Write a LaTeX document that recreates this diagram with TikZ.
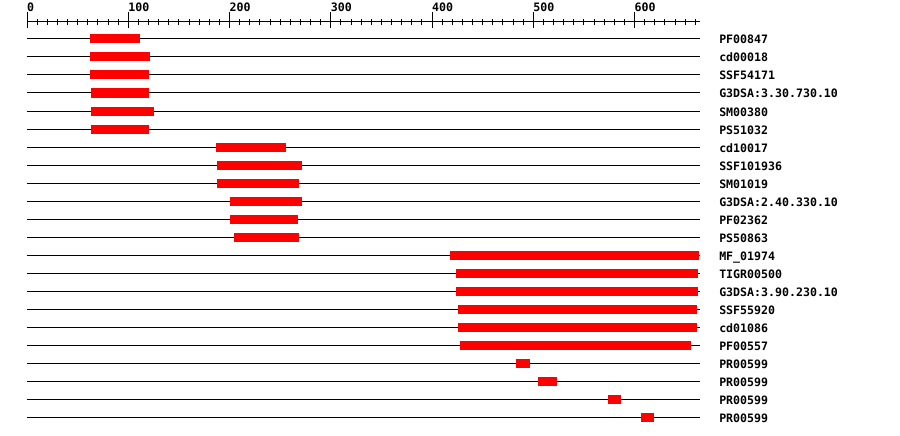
\documentclass[tikz,border=0pt]{standalone}
\usepackage{fontspec}
\newfontfamily\monofnt{DejaVu Sans Mono}
\usetikzlibrary{positioning}
\tikzset{
  track/.style={black, line width=1pt},
  hit/.style={fill=red},
  lbl/.style={anchor=base west, inner sep=0pt, font=\monofnt\bfseries\fontsize{11.6}{12}\selectfont},
}

\begin{document}
\begin{tikzpicture}[x=1.0125pt, y=-1pt]
    \useasboundingbox (-26.67,0) rectangle (862.22,436);
    % ruler
    \draw[track] (0,22) -- (665,22);
    \foreach \t in {0,10,...,660} {
        \draw[track] (\t,19) -- (\t,25.5);
    }
    \foreach \t in {0,100,...,600} {
        \draw[track] (\t,12) -- (\t,28.5);
        \node[lbl] (t\t) at (\t,12) {\t};
    }
    % domain hits
    \foreach \a/\b/\name [count=\i] in {62/112/PF00847, 62/121/cd00018, 62/120/SSF54171,
        63/120/G3DSA:3.30.730.10, 63/125/SM00380, 63/120/PS51032,
        187/256/cd10017, 188/272/SSF101936, 188/269/SM01019,
        200/272/G3DSA:2.40.330.10, 200/268/PF02362, 204/269/PS50863,
        418/664/MF\_01974, 424/663/TIGR00500, 424/663/G3DSA:3.90.230.10,
        426/662/SSF55920, 426/662/cd01086, 428/656/PF00557,
        483/497/PR00599, 505/523/PR00599, 574/587/PR00599, 606/619/PR00599} {
        \pgfmathsetmacro{\yy}{21+18*\i}
        \draw[track] (0,\yy) -- (665,\yy);
        \fill[hit] (\a,\yy-4.5) rectangle (\b,\yy+4.5);
        \node[lbl] (l\i) at (683.5,\yy+5) {\name};
    }
\end{tikzpicture}
\end{document}
